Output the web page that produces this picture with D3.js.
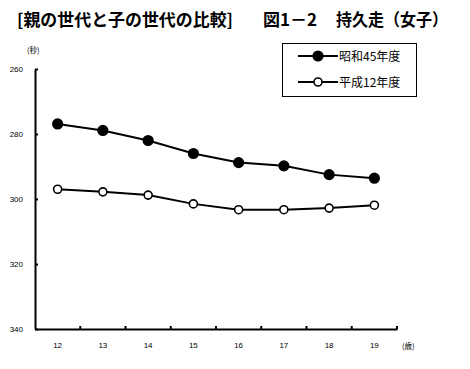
<!DOCTYPE html>
<html>
<head>
<meta charset="utf-8">
<script src="https://cdn.jsdelivr.net/npm/d3@7"></script>
<style>
  body { margin: 0; background: #fff; }
  svg text { font-family: "Noto Sans CJK JP", "Liberation Sans", sans-serif; }
</style>
</head>
<body>
<svg id="chart" width="470" height="369"></svg>
<script>
// ---------------------------------------------------------------- //
// Data

var ages = ['12', '13', '14', '15', '16', '17', '18', '19'];
var showa45 = [276.9, 278.9, 282.0, 286.0, 288.8, 289.8, 292.5, 293.6];
var heisei12 = [297.0, 297.8, 298.8, 301.5, 303.3, 303.3, 302.8, 301.9];
var yTicks = [260, 280, 300, 320, 340];
var seriesNames = ['昭和45年度', '平成12年度'];

// ---------------------------------------------------------------- //
// Setup

var svg = d3.select('#chart');
var plotLeft = 35, plotRight = 397, plotTop = 69, plotBottom = 329;

var x = d3.scaleBand().domain(ages).range([plotLeft, plotRight]);
var y = d3.scaleLinear().domain([260, 340]).range([plotTop, plotBottom]);

// title (three pieces, as laid out in the original)
var title = svg.append('g').style('font-size', '17px').style('font-weight', 'bold');
title.append('text').attr('x', 17).attr('y', 26)
  .attr('textLength', 216).attr('lengthAdjust', 'spacingAndGlyphs')
  .text('[親の世代と子の世代の比較]');
title.append('text').attr('x', 263).attr('y', 26).text('図1－2');
title.append('text').attr('x', 336).attr('y', 26)
  .attr('textLength', 112).attr('lengthAdjust', 'spacingAndGlyphs')
  .text('持久走（女子）');

// axes
var yAxis = d3.axisLeft(y).tickValues(yTicks).tickSizeInner(-3).tickSizeOuter(0).tickPadding(12);
var gy = svg.append('g').attr('transform', 'translate(' + plotLeft + ',0)').call(yAxis);

var xAxis = d3.axisBottom(x).tickSizeInner(0).tickSizeOuter(0).tickPadding(13);
var gx = svg.append('g').attr('transform', 'translate(0,' + plotBottom + ')').call(xAxis);

[gx, gy].forEach(function(g){
  g.select('.domain').attr('stroke', '#000').attr('stroke-width', 2);
  g.selectAll('line').attr('stroke', '#000').attr('stroke-width', 2);
  g.selectAll('text').style('font-size', '8px').style('font-family', '"Liberation Sans", sans-serif').attr('fill', '#000');
});

// category boundary ticks on x axis
svg.append('g').selectAll('line').data(ages)
  .enter().append('line')
  .attr('x1', function(d){ return x(d) + x.bandwidth(); })
  .attr('x2', function(d){ return x(d) + x.bandwidth(); })
  .attr('y1', plotBottom).attr('y2', plotBottom - 3)
  .attr('stroke', '#000').attr('stroke-width', 2);

// units
svg.append('text').attr('x', 27).attr('y', 53).style('font-size', '7.5px').text('(秒)');
svg.append('text').attr('x', 402).attr('y', 349).style('font-size', '7.5px').text('(歳)');

// ---------------------------------------------------------------- //
// Lines

var line_gen = d3.line()
  .x(function(d, i){ return x(ages[i]) + x.bandwidth() / 2; })
  .y(function(d){ return y(d); });

function drawSeries(values, filled){
  svg.append('path').datum(values)
    .attr('d', line_gen).attr('fill', 'none')
    .attr('stroke', '#000').attr('stroke-width', 2);
  svg.append('g').selectAll('circle').data(values)
    .enter().append('circle')
    .attr('cx', function(d, i){ return x(ages[i]) + x.bandwidth() / 2; })
    .attr('cy', function(d){ return y(d); })
    .attr('r', filled ? 4.8 : 4)
    .attr('fill', filled ? '#000' : '#fff')
    .attr('stroke', '#000').attr('stroke-width', 1.6);
}

drawSeries(showa45, true);
drawSeries(heisei12, false);

// ---------------------------------------------------------------- //
// Legend

var legend = svg.append('g');
legend.append('rect').attr('x', 282.5).attr('y', 43.5).attr('width', 134).attr('height', 53)
  .attr('fill', '#fff').attr('stroke', '#000').attr('stroke-width', 1);

seriesNames.forEach(function(name, i){
  var ly = 56 + i * 26;
  legend.append('line').attr('x1', 298).attr('x2', 338).attr('y1', ly).attr('y2', ly)
    .attr('stroke', '#000').attr('stroke-width', 2);
  legend.append('circle').attr('cx', 318).attr('cy', ly).attr('r', i === 0 ? 4.8 : 4)
    .attr('fill', i === 0 ? '#000' : '#fff').attr('stroke', '#000').attr('stroke-width', 1.6);
  legend.append('text').attr('x', 339).attr('y', ly + 4.5)
    .style('font-size', '12px').text(name);
});
</script>
</body>
</html>
